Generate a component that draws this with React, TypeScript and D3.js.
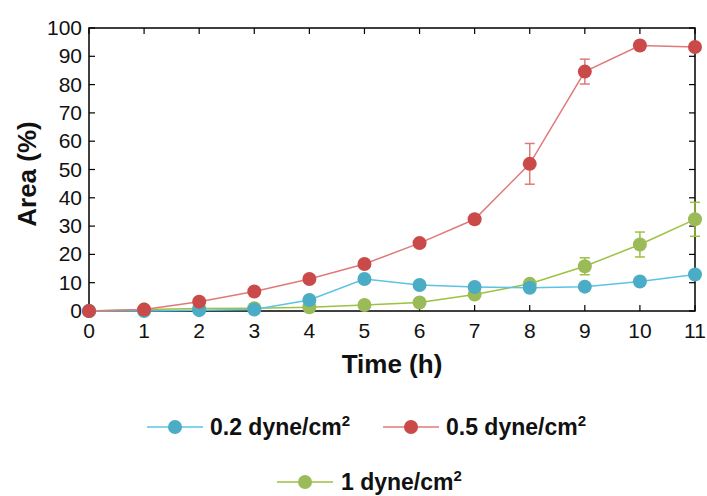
import React from "react";
import * as d3 from "d3";

const hours = [0, 1, 2, 3, 4, 5, 6, 7, 8, 9, 10, 11];
const low = [0, 0, 0.3, 0.5, 3.9, 11.3, 9.2, 8.5, 8.2, 8.6, 10.4, 12.9];
const mid = [0, 0.5, 3.3, 6.9, 11.3, 16.6, 24.0, 32.4, 52.0, 84.6, 93.8, 93.3];
const high = [0, 0.5, 0.9, 1.0, 1.3, 2.1, 3.0, 5.8, 9.6, 15.8, 23.5, 32.4];
const midErr = [0, 0, 0, 0, 0, 0, 0, 0, 7.2, 4.4, 0, 0];
const highErr = [0, 0, 0, 0, 0, 0, 0, 0, 0, 3.0, 4.4, 6.0];
const yTicks = [0, 10, 20, 30, 40, 50, 60, 70, 80, 90, 100];

const seriesList = [
  { name: "0.2 dyne/cm", values: low, err: null as number[] | null, dot: "#4bacc6", line: "#5bc3e6", errColor: "#5bc3e6" },
  { name: "0.5 dyne/cm", values: mid, err: midErr, dot: "#c94a49", line: "#e07a7a", errColor: "#e07a7a" },
  { name: "1 dyne/cm", values: high, err: highErr, dot: "#9bbb59", line: "#9dc23e", errColor: "#9dc23e" },
];

const W = 707;
const H = 496;
const left = 89;
const right = 695;
const top = 28;
const bottom = 311;

export default function App() {
  const x = d3.scaleLinear().domain([0, 11]).range([left, right]);
  const y = d3.scaleLinear().domain([0, 100]).range([bottom, top]);
  const line = d3
    .line<number>()
    .x((_, i) => x(hours[i]))
    .y((v) => y(v));
  const font = "'Liberation Sans', Arial, sans-serif";
  const r = 7;

  // draw order: green underneath, then blue, then red on top
  const drawOrder = [seriesList[2], seriesList[0], seriesList[1]];

  const legendItems = [
    { s: seriesList[0], lx: 147, ly: 427, tx: 210 },
    { s: seriesList[1], lx: 383, ly: 427, tx: 446 },
    { s: seriesList[2], lx: 277, ly: 482, tx: 341 },
  ];

  return (
    <svg width={W} height={H} style={{ position: "absolute", left: 0, top: 0, background: "#fff" }} fontFamily={font}>
      {/* plot frame */}
      <rect x={left} y={top} width={right - left} height={bottom - top} fill="none" stroke="#000" strokeWidth={1.5} />
      {/* y ticks on both sides, inward */}
      {yTicks.map((t) => (
        <g key={"y" + t}>
          <line x1={left} x2={left + 6} y1={y(t)} y2={y(t)} stroke="#000" strokeWidth={1.2} />
          <line x1={right} x2={right - 6} y1={y(t)} y2={y(t)} stroke="#000" strokeWidth={1.2} />
          <text x={left - 7} y={y(t) + 7} textAnchor="end" fontSize={21} fill="#111">
            {t}
          </text>
        </g>
      ))}
      {/* x ticks on top and bottom, inward */}
      {hours.map((h) => (
        <g key={"x" + h}>
          <line x1={x(h)} x2={x(h)} y1={bottom} y2={bottom - 6} stroke="#000" strokeWidth={1.2} />
          <line x1={x(h)} x2={x(h)} y1={top} y2={top + 6} stroke="#000" strokeWidth={1.2} />
          <text x={x(h)} y={bottom + 27} textAnchor="middle" fontSize={21} fill="#111">
            {h}
          </text>
        </g>
      ))}
      {/* axis titles */}
      <text x={392} y={373} textAnchor="middle" fontSize={26} fontWeight="bold" fill="#111">
        Time (h)
      </text>
      <text
        transform={`translate(36, 174) rotate(-90)`}
        textAnchor="middle"
        fontSize={26}
        fontWeight="bold"
        fill="#111"
      >
        Area (%)
      </text>
      {/* lines */}
      {drawOrder.map((s) => (
        <path key={"l" + s.name} d={line(s.values) || ""} fill="none" stroke={s.line} strokeWidth={1.5} />
      ))}
      {/* error bars */}
      {drawOrder.map((s) =>
        s.err
          ? s.err.map((e, i) =>
              e > 0 ? (
                <g key={s.name + "e" + i} stroke={s.errColor} strokeWidth={1.5}>
                  <line x1={x(hours[i])} x2={x(hours[i])} y1={y(s.values[i] - e)} y2={y(s.values[i] + e)} />
                  <line x1={x(hours[i]) - 5} x2={x(hours[i]) + 5} y1={y(s.values[i] - e)} y2={y(s.values[i] - e)} />
                  <line x1={x(hours[i]) - 5} x2={x(hours[i]) + 5} y1={y(s.values[i] + e)} y2={y(s.values[i] + e)} />
                </g>
              ) : null
            )
          : null
      )}
      {/* markers */}
      {drawOrder.map((s) =>
        s.values.map((v, i) => <circle key={s.name + "c" + i} cx={x(hours[i])} cy={y(v)} r={r} fill={s.dot} />)
      )}
      {/* legend */}
      {legendItems.map(({ s, lx, ly, tx }) => (
        <g key={"lg" + s.name}>
          <line x1={lx} x2={lx + 56} y1={ly} y2={ly} stroke={s.line} strokeWidth={1.5} />
          <circle cx={lx + 28} cy={ly} r={r} fill={s.dot} />
          <text x={tx} y={ly + 8} fontSize={23} fontWeight="bold" fill="#111">
            {s.name}
            <tspan fontSize={15} dy={-9}>
              2
            </tspan>
          </text>
        </g>
      ))}
    </svg>
  );
}
